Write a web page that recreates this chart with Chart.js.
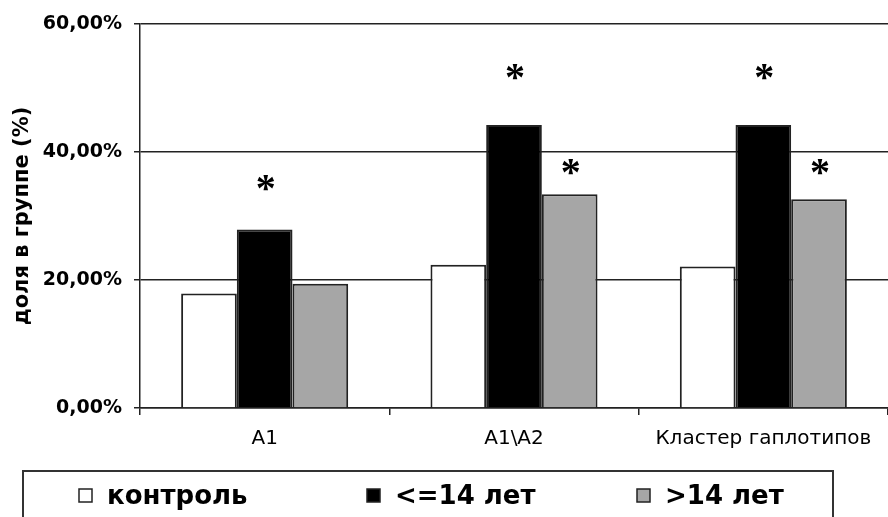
<!DOCTYPE html>
<html>
<head>
<meta charset="utf-8">
<script src="https://cdn.jsdelivr.net/npm/chart.js@4/dist/chart.umd.min.js"></script>
<style>
  html, body { margin: 0; padding: 0; background: #fff; }
  canvas { display: block; }
</style>
</head>
<body>
<canvas id="chart" width="888" height="517"></canvas>
<script>
/* ── Данные ── */
const categories  = ['A1', 'A1\\A2', 'Кластер гаплотипов'];
const control     = [17.9, 22.4, 22.1];   // контроль
const under14     = [27.9, 44.2, 44.2];   // <=14 лет
const over14      = [19.4, 33.4, 32.6];   // >14 лет
const yTicks      = [0, 20, 40, 60];
// высота звёздочек (значимость), в % шкалы
const starUnder14 = [35.1, 52.5, 52.5];
const starOver14  = [null, 37.6, 37.6];

const fmtPct = v => v.toFixed(2).replace('.', ',') + '%';

/* ── Звёздочки над столбцами ── */
const starsPlugin = {
  id: 'stars',
  afterDatasetsDraw(chart) {
    const { ctx, scales: { y } } = chart;
    ctx.save();
    ctx.fillStyle = '#000';
    ctx.font = 'bold 40px "Liberation Serif"';
    ctx.textAlign = 'center';
    ctx.textBaseline = 'alphabetic';
    const m = ctx.measureText('*');
    const shift = (m.actualBoundingBoxAscent - m.actualBoundingBoxDescent) / 2;
    chart.data.datasets.forEach((ds, di) => {
      if (!ds.stars) return;
      const meta = chart.getDatasetMeta(di);
      ds.stars.forEach((v, i) => {
        if (v == null) return;
        ctx.fillText('*', meta.data[i].x + 1, y.getPixelForValue(v) + shift);
      });
    });
    ctx.restore();
  }
};

/* ── Легенда в рамке ── */
const boxLegend = {
  id: 'boxLegend',
  afterDraw(chart) {
    const { ctx } = chart;
    ctx.save();
    ctx.strokeStyle = '#333';
    ctx.lineWidth = 2;
    ctx.strokeRect(23, 471, 810, 70);
    const xs = [79, 367, 637];
    ctx.font = 'bold 26px "DejaVu Sans"';
    ctx.textBaseline = 'middle';
    chart.data.datasets.forEach((ds, i) => {
      ctx.fillStyle = ds.backgroundColor;
      ctx.fillRect(xs[i], 489, 13, 13);
      ctx.lineWidth = 1.5;
      ctx.strokeStyle = '#222';
      ctx.strokeRect(xs[i], 489, 13, 13);
      ctx.fillStyle = '#000';
      ctx.fillText(ds.label, xs[i] + 28, 497);
    });
    ctx.restore();
  }
};

new Chart(document.getElementById('chart'), {
  type: 'bar',
  data: {
    labels: categories,
    datasets: [
      { label: 'контроль', data: control, backgroundColor: '#ffffff' },
      { label: '<=14 лет', data: under14, backgroundColor: '#000000', stars: starUnder14 },
      { label: '>14 лет',  data: over14,  backgroundColor: '#a6a6a6', stars: starOver14 },
    ].map(d => ({ ...d, borderColor: '#222', borderWidth: 2,
                  categoryPercentage: 0.67, barPercentage: 1.0 })),
  },
  options: {
    responsive: false,
    animation: false,
    layout: { padding: { top: 24, right: 0, bottom: 0, left: 0 } },
    plugins: {
      legend: { display: false },
      tooltip: { enabled: false },
    },
    scales: {
      x: {
        afterFit: s => { s.height = 109; },
        grid: { offset: true, drawOnChartArea: false, drawTicks: true, tickLength: 7, color: '#222', lineWidth: 1.5 },
        border: { color: '#222', width: 1.5 },
        ticks: { color: '#000', padding: 12, font: { family: '"DejaVu Sans"', size: 20 } },
      },
      y: {
        min: 0, max: 60,
        afterFit: s => { s.width = 140; },
        afterBuildTicks: s => { s.ticks = yTicks.map(v => ({ value: v })); },
        grid: { color: '#222', lineWidth: 1.5, tickLength: 6 },
        border: { color: '#222', width: 1.5 },
        ticks: { color: '#000', padding: 12, callback: v => fmtPct(v),
                 font: { family: '"DejaVu Sans"', size: 19, weight: 'bold' } },
        title: { display: true, text: 'доля в группе (%)', color: '#000',
                 padding: { top: 10, bottom: 0 },
                 font: { family: '"DejaVu Sans"', size: 21, weight: 'bold' } },
      },
    },
  },
  plugins: [starsPlugin, boxLegend],
});
</script>
</body>
</html>
